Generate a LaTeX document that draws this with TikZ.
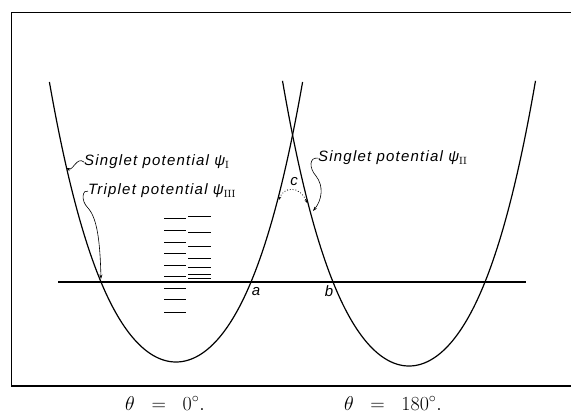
\documentclass[tikz,border=0pt]{standalone}
\usepackage{fix-cm}
\usepackage{fontspec}
\usetikzlibrary{arrows.meta}
\newfontfamily\hand[LetterSpace=8]{Liberation Sans}
\begin{document}
\begin{tikzpicture}[x=1pt,y=-1pt,
  curve/.style={line width=1.2pt},
  hw/.style={font=\hand\itshape\fontsize{15}{17}\selectfont, inner sep=0pt},
  ptr/.style={line width=0.6pt, -{Stealth[length=4.5pt,width=3pt]}},
  lvl/.style={line width=0.6pt},
  captext/.style={font=\fontsize{20}{22}\selectfont, anchor=base, inner sep=0pt}
]
\useasboundingbox (0,0) rectangle (571,414);
% frame
\draw[line width=0.9pt] (571,12) -- (11,12) -- (11,386);
\draw[line width=1.3pt] (11,386) -- (571,386);
% potential curves
\draw[curve] plot[domain=-126.6:126.6, samples=120, smooth] ({176+\x},{362-80*(0.8765*(\x/75)^2+0.1235*(\x/75)^4)});
\draw[curve] plot[domain=-126.5:126.5, samples=120, smooth] ({409+\x},{366-84*(0.8726*(\x/76)^2+0.1274*(\x/76)^4)});
% energy line
\draw[line width=1.4pt] (58,282) -- (526,282);
% levels
\foreach \yy in {218,230,242,253,265,276,288,299,312}
  \draw[lvl] (164,\yy) -- (186,\yy);
\foreach \yy in {216,232,246,258,267,274,278}
  \draw[lvl] (188,\yy) -- (211,\yy);
% labels
\node[hw, anchor=base west] (sI) at (84,166) {Singlet potential ψ$_{\mathrm{I}}$};
\node[hw, anchor=base west] (tIII) at (88,195) {Triplet potential ψ$_{\mathrm{III}}$};
\node[hw, anchor=base west] (sII) at (318,162) {Singlet potential ψ$_{\mathrm{II}}$};
\node[hw] (la) at (256,292) {a};
\node[hw] (lb) at (329,291) {b};
\node[hw] (lc) at (294,182) {c};
% pointer targets
\coordinate (pI) at (66,168);
\coordinate (pT) at (101,279);
\coordinate (pII) at (313,211);
\coordinate (cL) at (279,200);
\coordinate (cR) at (307,203);
% pointers
\draw[ptr] (sI.west) .. controls (77,156) and (73,171) .. (pI);
\draw[ptr] (tIII.west) .. controls (83,189) and (80,200) .. (88,208) .. controls (97,218) and (100,240) .. (pT);
\draw[ptr] (sII.west) .. controls (309,157) and (309,168) .. (316,176) .. controls (324,186) and (322,200) .. (pII);
\draw[dotted, line width=0.8pt, {Stealth[length=3.5pt,width=2.5pt]}-{Stealth[length=3.5pt,width=2.5pt]}] (cL) .. controls (283,187) and (300,185) .. (cR);
% captions
\node[captext] (c0) at (165,410) {$\theta\;\;=\;\;0^\circ.$};
\node[captext] (c180) at (393,410) {$\theta\;\;=\;\;180^\circ.$};
\end{tikzpicture}
\end{document}
